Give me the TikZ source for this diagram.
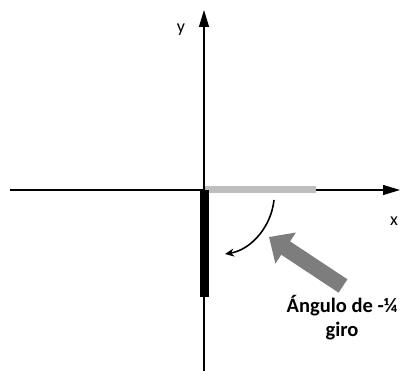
\documentclass[tikz,border=0pt]{standalone}
\usepackage{fontspec}
\setmainfont{Carlito}
\usetikzlibrary{arrows.meta}
\definecolor{barlight}{RGB}{190,190,190}
\definecolor{pointergray}{RGB}{125,125,125}
\begin{document}
\begin{tikzpicture}[x=1pt,y=-1pt,
  axis/.style={line width=1.1pt,-{Triangle[length=17pt,width=10pt]}},
  axislabel/.style={inner sep=0pt,font=\fontsize{18}{20}\selectfont},
  bar/.style={line width=#1},
  turn/.style={line width=1.6pt,-{Stealth[length=9pt,width=8pt]}},
  pointer/.style={line width=16pt,pointergray,-{Triangle[length=20pt,width=36pt]}},
  note/.style={align=center,inner sep=0pt,font=\bfseries\fontsize{20.5}{24}\selectfont}]
\useasboundingbox (0,0) rectangle (409,371);
% axes
\coordinate (o) at (204,190);
\coordinate (xl) at (10,190);
\coordinate (xr) at (400,190);
\coordinate (yb) at (204,371);
\coordinate (yt) at (204,10);
\draw[axis] (xl) -- (xr);
\draw[axis] (yb) -- (yt);
\node[axislabel] (xlab) at (394,221) {x};
\node[axislabel] (ylab) at (181,30) {y};
% segment before and after the turn
\coordinate (start) at (316,190);
\coordinate (stop) at (204.5,297);
\draw[bar=7pt,barlight] (205,190) -- (start);
\draw[bar=9pt] (204.5,190) -- (stop);
% turning arrow
\coordinate (ta) at (274,200);
\coordinate (tb) at (225,254);
\draw[turn] (ta) .. controls (271,228) and (250,250) .. (tb);
% label with pointer
\node[note] (angle) at (342,318) {Ángulo de -¼\\giro};
\coordinate (ptail) at (343,286);
\coordinate (ptip) at (269,237);
\draw[pointer] (ptail) -- (ptip);
\end{tikzpicture}
\end{document}
